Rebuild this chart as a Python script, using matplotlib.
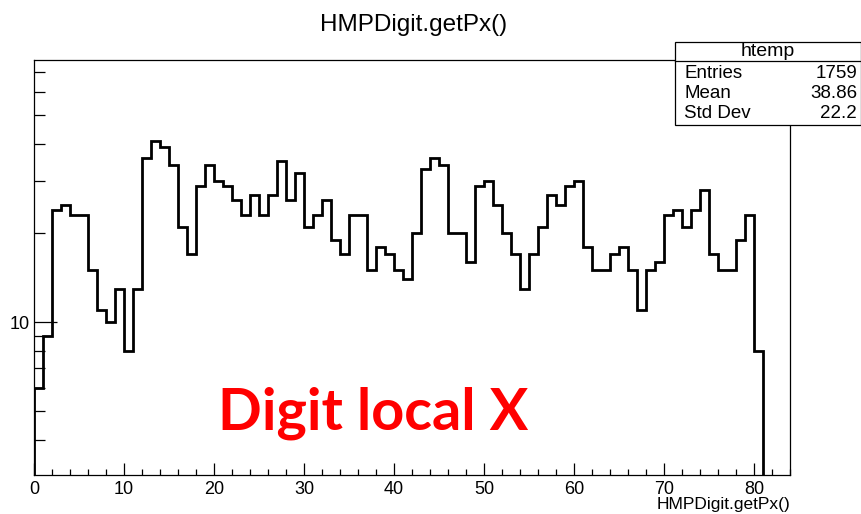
import numpy as np
import matplotlib
matplotlib.use('Agg')
import matplotlib.pyplot as plt
from matplotlib.patches import Rectangle
from matplotlib.ticker import FixedLocator, NullFormatter, FixedFormatter

# histogram of HMPDigit.getPx(), bins of width 1 starting at 0
counts = [6, 9, 24, 25, 23, 23, 15, 11, 10, 13,
          8, 13, 36, 41, 39, 34, 21, 17, 29, 34,
          30, 29, 26, 23, 27, 23, 27, 35, 26, 32,
          21, 23, 26, 19, 17, 23, 23, 15, 18, 17,
          15, 14, 20, 33, 36, 34, 20, 20, 16, 29,
          30, 25, 20, 17, 13, 17, 21, 27, 25, 29,
          30, 18, 15, 15, 17, 18, 15, 11, 15, 16,
          23, 24, 21, 24, 28, 17, 15, 15, 19, 23, 8]
edges = np.arange(len(counts) + 1)

title = 'HMPDigit.getPx()'
xlabel = 'HMPDigit.getPx()'
stat_names = ['Entries', 'Mean', 'Std Dev']
stat_values = [str(sum(counts)), '38.86', '22.2']
note = 'Digit local X'

plt.rcParams['font.family'] = ['Liberation Sans', 'DejaVu Sans']

W, H = 862, 514
fig = plt.figure(figsize=(W / 100, H / 100), dpi=100)
ax = fig.add_axes([34 / W, 1 - 475 / H, (790 - 34) / W, (475 - 60) / H])

ax.set_yscale('log', nonpositive='clip')
ax.stairs(counts, edges, baseline=0, color='black', lw=2.0)
ax.set_xlim(0, 84)
ax.set_ylim(3.05, 77)

for s in ax.spines.values():
    s.set_linewidth(0.9)

ax.set_xticks(np.arange(0, 81, 10))
ax.set_xticks(np.arange(0, 85, 2), minor=True)
ax.tick_params(axis='x', which='major', direction='in', length=8.5, width=0.9,
               labelsize=13, pad=4)
ax.tick_params(axis='x', which='minor', direction='in', length=4.3, width=0.9)

ax.yaxis.set_major_locator(FixedLocator([10]))
ax.yaxis.set_major_formatter(FixedFormatter(['10']))
ax.yaxis.set_minor_locator(FixedLocator([4, 5, 6, 7, 8, 9, 20, 30, 40, 50, 60, 70]))
ax.yaxis.set_minor_formatter(NullFormatter())
ax.tick_params(axis='y', which='major', direction='in', length=16.5, width=0.9,
               labelsize=13, pad=3)
ax.tick_params(axis='y', which='minor', direction='in', length=8, width=0.9)

fig.text(414 / W, 1 - 25 / H, title, ha='center', va='center', fontsize=17.5)
fig.text(790 / W, 1 - 504 / H, xlabel, ha='right', va='center', fontsize=12.5)

fig.text(218 / W, 1 - 413 / H, note, color='#ff0000', fontsize=41.5,
         fontweight='bold', family=['Lato', 'DejaVu Sans'],
         ha='left', va='center')

# stats box
bx0, bx1, by0, by1, bsep = 675, 861, 42, 125, 61
fig.patches.append(Rectangle((bx0 / W, 1 - by1 / H), (bx1 - bx0) / W, (by1 - by0) / H,
                             transform=fig.transFigure, facecolor='white',
                             edgecolor='black', lw=0.9, zorder=5))
fig.add_artist(plt.Line2D([bx0 / W, bx1 / W], [1 - bsep / H, 1 - bsep / H],
                          transform=fig.transFigure, color='black', lw=0.9, zorder=6))
fig.text((bx0 + bx1) / 2 / W, 1 - 52 / H, 'htemp', ha='center', va='center',
         fontsize=14, zorder=7)
for i, (n, v) in enumerate(zip(stat_names, stat_values)):
    y = 1 - (74 + 19.5 * i) / H
    fig.text(684 / W, y, n, ha='left', va='center', fontsize=13.5, zorder=7)
    fig.text(857 / W, y, v, ha='right', va='center', fontsize=13.5, zorder=7)

fig.savefig('out.png', dpi=100)
